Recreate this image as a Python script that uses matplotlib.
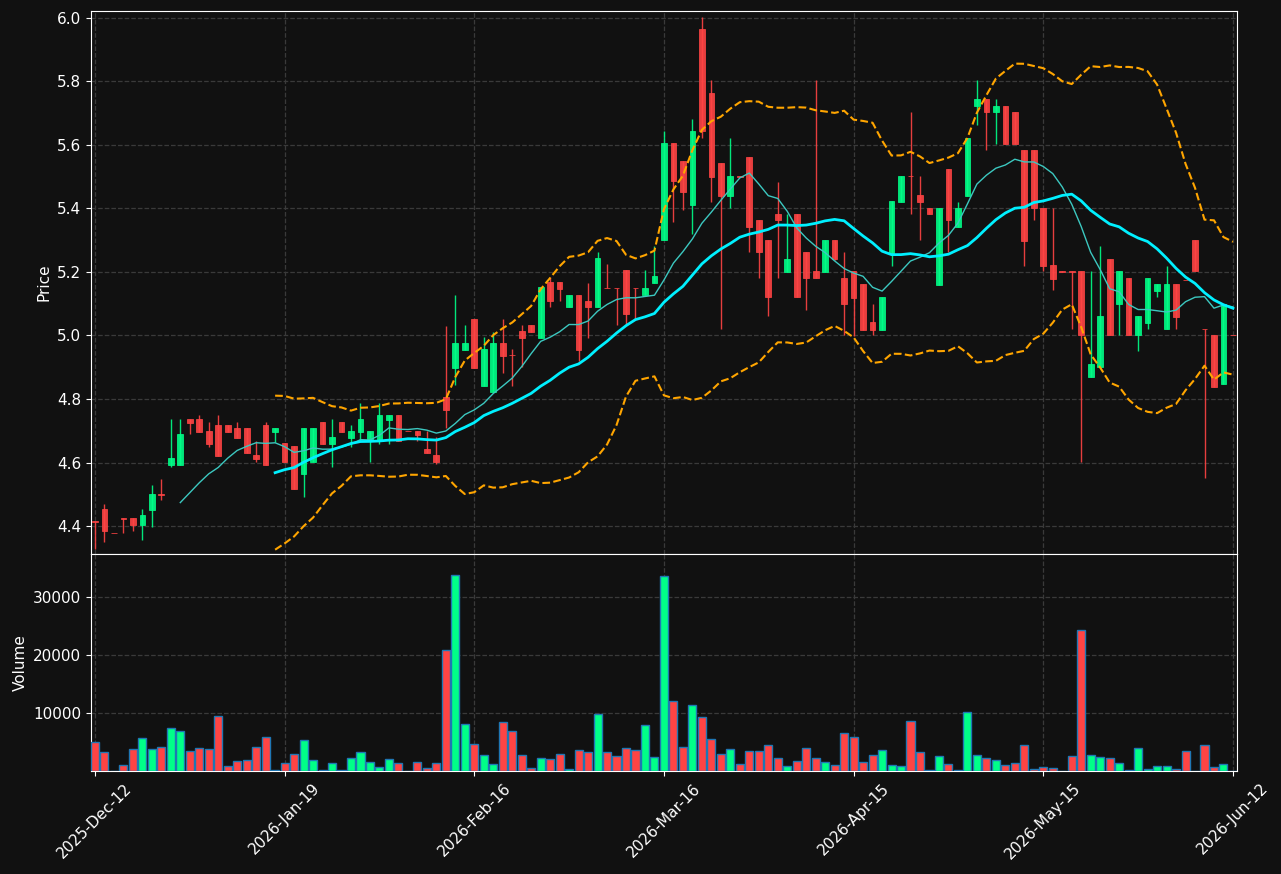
import numpy as np
import pandas as pd
import matplotlib
matplotlib.use("Agg")
import matplotlib.pyplot as plt

# daily bars
opens = [4.416, 4.453, 4.378, 4.425, 4.425, 4.404, 4.451, 4.502, 4.593, 4.593,
         4.737, 4.737, 4.699, 4.718, 4.718, 4.709, 4.709, 4.624, 4.718, 4.697,
         4.661, 4.652, 4.565, 4.603, 4.728, 4.659, 4.728, 4.678, 4.697, 4.671,
         4.671, 4.734, 4.750, 4.700, 4.699, 4.642, 4.624, 4.806, 4.899, 4.955,
         5.052, 4.842, 4.823, 4.976, 4.938, 5.014, 5.033, 4.993, 5.168, 5.168,
         5.089, 5.128, 5.109, 5.089, 5.150, 5.150, 5.206, 5.150, 5.128, 5.166,
         5.299, 5.605, 5.550, 5.412, 5.965, 5.764, 5.543, 5.440, 5.502, 5.562,
         5.363, 5.301, 5.383, 5.200, 5.383, 5.263, 5.202, 5.200, 5.301, 5.181,
         5.202, 5.162, 5.043, 5.017, 5.259, 5.421, 5.502, 5.443, 5.402, 5.159,
         5.524, 5.340, 5.440, 5.721, 5.745, 5.702, 5.723, 5.704, 5.584, 5.584,
         5.402, 5.222, 5.202, 5.202, 5.202, 4.870, 4.900, 5.240, 5.100, 5.180,
         5.000, 5.040, 5.141, 5.019, 5.161, 5.176, 5.300, 5.020, 5.000, 4.848,
         5.001]
highs = [4.416, 4.471, 4.378, 4.425, 4.425, 4.453, 4.528, 4.548, 4.737, 4.737,
         4.737, 4.750, 4.726, 4.750, 4.718, 4.726, 4.709, 4.669, 4.726, 4.709,
         4.661, 4.652, 4.709, 4.709, 4.728, 4.736, 4.728, 4.718, 4.786, 4.699,
         4.786, 4.750, 4.750, 4.700, 4.699, 4.699, 4.680, 5.031, 5.128, 5.032,
         5.052, 4.995, 5.012, 5.052, 4.957, 5.033, 5.033, 5.151, 5.185, 5.168,
         5.128, 5.128, 5.166, 5.263, 5.224, 5.150, 5.206, 5.150, 5.206, 5.280,
         5.642, 5.605, 5.550, 5.681, 6.002, 5.803, 5.543, 5.621, 5.502, 5.562,
         5.363, 5.301, 5.482, 5.383, 5.383, 5.263, 5.803, 5.301, 5.301, 5.262,
         5.202, 5.162, 5.100, 5.121, 5.424, 5.502, 5.703, 5.501, 5.402, 5.402,
         5.524, 5.421, 5.622, 5.803, 5.745, 5.745, 5.723, 5.704, 5.584, 5.584,
         5.402, 5.402, 5.202, 5.202, 5.202, 5.202, 5.281, 5.240, 5.202, 5.180,
         5.061, 5.180, 5.162, 5.220, 5.161, 5.176, 5.300, 5.020, 5.000, 5.100,
         5.001]
lows = [4.327, 4.349, 4.377, 4.377, 4.385, 4.357, 4.396, 4.481, 4.585, 4.593,
        4.689, 4.697, 4.650, 4.621, 4.697, 4.678, 4.631, 4.603, 4.593, 4.664,
        4.603, 4.518, 4.490, 4.603, 4.659, 4.585, 4.697, 4.650, 4.669, 4.603,
        4.659, 4.659, 4.669, 4.699, 4.669, 4.631, 4.594, 4.709, 4.843, 4.955,
        4.899, 4.842, 4.823, 4.881, 4.842, 4.902, 5.012, 4.993, 5.089, 5.109,
        5.089, 4.918, 4.993, 5.089, 5.149, 5.033, 5.033, 5.052, 5.128, 5.166,
        5.299, 5.356, 5.395, 5.320, 5.621, 5.421, 5.019, 5.400, 5.500, 5.261,
        5.180, 5.061, 5.180, 5.200, 5.120, 5.080, 5.180, 5.200, 5.238, 5.000,
        4.998, 5.017, 5.000, 5.017, 5.220, 5.421, 5.382, 5.300, 5.382, 5.159,
        5.262, 5.340, 5.440, 5.662, 5.582, 5.602, 5.602, 5.602, 5.220, 5.362,
        5.202, 5.142, 5.201, 5.019, 4.603, 4.870, 4.900, 5.000, 5.000, 5.000,
        4.951, 5.019, 5.120, 5.019, 5.019, 5.175, 5.202, 4.550, 4.839, 4.848,
        5.000]
closes = [4.414, 4.385, 4.377, 4.421, 4.404, 4.435, 4.501, 4.498, 4.614, 4.690,
          4.725, 4.697, 4.659, 4.621, 4.697, 4.678, 4.631, 4.611, 4.593, 4.709,
          4.603, 4.518, 4.709, 4.709, 4.659, 4.680, 4.697, 4.699, 4.737, 4.699,
          4.750, 4.750, 4.669, 4.699, 4.688, 4.631, 4.603, 4.766, 4.976, 4.976,
          4.899, 4.957, 4.976, 4.936, 4.937, 4.993, 5.012, 5.151, 5.107, 5.147,
          5.128, 4.954, 5.089, 5.244, 5.149, 5.149, 5.068, 5.149, 5.149, 5.187,
          5.605, 5.487, 5.450, 5.644, 5.642, 5.500, 5.440, 5.502, 5.500, 5.340,
          5.261, 5.120, 5.362, 5.241, 5.120, 5.180, 5.180, 5.301, 5.240, 5.100,
          5.119, 5.017, 5.017, 5.121, 5.424, 5.502, 5.501, 5.421, 5.382, 5.402,
          5.362, 5.402, 5.622, 5.745, 5.703, 5.723, 5.602, 5.602, 5.298, 5.400,
          5.220, 5.179, 5.201, 5.201, 5.000, 4.910, 5.061, 5.000, 5.202, 5.000,
          5.061, 5.180, 5.162, 5.161, 5.059, 5.175, 5.202, 5.019, 4.839, 5.100,
          5.000]
volumes = [5057, 3333, 0, 977, 3736, 5632, 3736, 4080, 7356, 6839,
           3391, 3908, 3736, 9425, 805, 1667, 1839, 4080, 5805, 100,
           1322, 2874, 5287, 1839, 100, 1322, 100, 2184, 3218, 1494,
           632, 2011, 1322, 0, 1494, 460, 1322, 20920, 33908, 8046,
           4713, 2701, 1264, 8391, 6839, 2701, 460, 2184, 2011, 2874,
           287, 3563, 3218, 9943, 3218, 2529, 3908, 3563, 7874, 2356,
           33736, 12184, 4080, 11494, 9253, 5460, 2874, 3736, 1149, 3391,
           3391, 4425, 2184, 805, 1667, 3908, 2184, 1494, 977, 6494,
           5805, 1494, 2701, 3563, 977, 805, 8563, 3218, 100, 2529,
           1149, 100, 10287, 2701, 2184, 1839, 977, 1322, 4425, 287,
           632, 460, 0, 2529, 24425, 2701, 2356, 2184, 1322, 100,
           3908, 287, 805, 805, 287, 3391, 0, 4425, 632, 1149,
           0]
tick_pos = [0, 20, 40, 60, 80, 100, 120]
tick_labels = ["2025-Dec-12", "2026-Jan-19", "2026-Feb-16", "2026-Mar-16",
               "2026-Apr-15", "2026-May-15", "2026-Jun-12"]

df = pd.DataFrame({"Open": opens, "High": highs, "Low": lows,
                   "Close": closes, "Volume": volumes})
ma10 = df["Close"].rolling(10).mean()
ma20 = df["Close"].rolling(20).mean()
sd20 = df["Close"].rolling(20).std(ddof=0)
upper = ma20 + 2 * sd20
lower = ma20 - 2 * sd20

bg = "#111111"
up_c = "#00ff88"
dn_c = "#ff4444"
x = np.arange(len(df))
up = df["Close"] >= df["Open"]
cols = np.where(up, up_c, dn_c)

fig = plt.figure(figsize=(12.81, 8.74), dpi=100, facecolor=bg)
ax1 = fig.add_axes([0.0710, 0.3661, 0.8946, 0.6213], facecolor=bg)
ax2 = fig.add_axes([0.0710, 0.1178, 0.8946, 0.2483], facecolor=bg, sharex=ax1)

# candles
ax1.vlines(x, df["Low"], df["High"], colors=cols, lw=1, alpha=0.9, zorder=2)
body_lo = np.minimum(df["Open"], df["Close"])
body_h = (df["Close"] - df["Open"]).abs()
ax1.bar(x, body_h, bottom=body_lo, width=0.6, color=cols, edgecolor=cols,
        linewidth=0.6, alpha=0.9, zorder=3)

ax1.plot(x, ma10, color="#3cc8c0", lw=1, zorder=4)
ax1.plot(x, ma20, color="#00f0ff", lw=2, zorder=4)
ax1.plot(x, upper, color="orange", lw=1.5, ls="--", zorder=4)
ax1.plot(x, lower, color="orange", lw=1.5, ls="--", zorder=4)

ax2.bar(x, df["Volume"], width=0.85, color=cols, edgecolor="#1f77b4",
        linewidth=1, zorder=3)

ax1.set_xlim(-0.42, 120.42)
ax1.set_ylim(4.312, 6.021)
ax1.set_yticks([4.4, 4.6, 4.8, 5.0, 5.2, 5.4, 5.6, 5.8, 6.0])
ax2.set_ylim(0, 37500)
ax2.set_yticks([10000, 20000, 30000])
ax2.set_xticks(tick_pos)
ax2.set_xticklabels(tick_labels, rotation=45)
plt.setp(ax1.get_xticklabels(), visible=False)

for ax in (ax1, ax2):
    ax.grid(True, color="#3a3a3a", ls="--", lw=0.9)
    ax.set_axisbelow(True)
    for s in ax.spines.values():
        s.set_color("white")
    ax.tick_params(colors="white", labelsize=11)

ax1.set_ylabel("Price", color="white", fontsize=11)
ax2.set_ylabel("Volume", color="white", fontsize=11)

fig.savefig("out.png", dpi=100, facecolor=bg)
